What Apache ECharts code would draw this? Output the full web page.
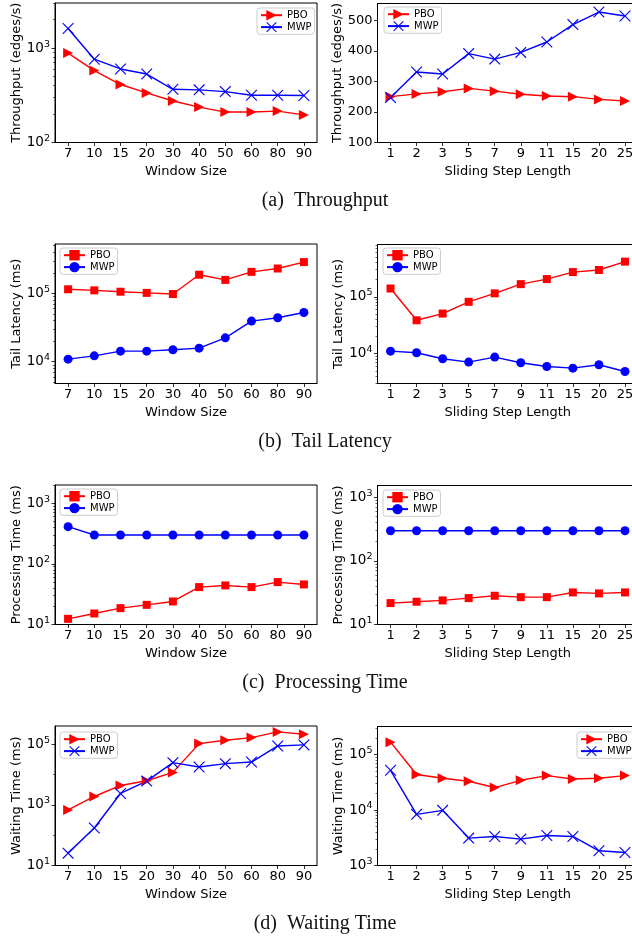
<!DOCTYPE html>
<html>
<head>
<meta charset="utf-8">
<script src="https://cdn.jsdelivr.net/npm/echarts@6/dist/echarts.min.js"></script>
<style>
body{margin:0;background:#fff;width:632px;height:940px;overflow:hidden;position:relative}
.row{position:absolute;left:0;width:660px;height:241px}
</style>
</head>
<body>
<div id="r0" class="row" style="top:0px"></div>
<div id="r1" class="row" style="top:241px"></div>
<div id="r2" class="row" style="top:482px"></div>
<div id="r3" class="row" style="top:723px"></div>
<script>
var windowSizes = ['7', '10', '15', '20', '30', '40', '50', '60', '80', '90'];
var stepLengths = ['1', '2', '3', '5', '7', '9', '11', '15', '20', '25'];

// (a) throughput
var thrWinPBO = [884, 577, 411, 335, 275, 237, 210, 210, 215, 196];
var thrWinMWP = [1610, 762, 601, 531, 366, 361, 346, 316, 316, 314];
var thrStepPBO = [250, 259, 266, 277, 268, 258, 252, 250, 241, 236];
var thrStepMWP = [247, 331, 324, 391, 373, 395, 429, 486, 527, 514];
// (b) tail latency
var latWinPBO = [115000, 111000, 106000, 102000, 98000, 188000, 158000, 207000, 232000, 288000];
var latWinMWP = [10900, 12200, 14300, 14300, 15000, 15800, 22400, 39400, 44000, 52700];
var latStepPBO = [140000, 38700, 50800, 81600, 115000, 167000, 205000, 272000, 296000, 415000];
var latStepMWP = [11100, 10400, 8170, 7130, 8740, 6940, 5970, 5580, 6400, 4880];
// (c) processing time
var procWinPBO = [12.4, 15.2, 18.6, 21.1, 24, 41.4, 44.1, 41.4, 50.1, 45.8];
var procWinMWP = [411, 299, 299, 299, 299, 299, 299, 299, 299, 299];
var procStepPBO = [21.7, 22.8, 23.9, 26, 28.3, 26.9, 26.9, 31.9, 30.8, 31.9];
var procStepMWP = [298, 298, 298, 298, 298, 298, 298, 298, 298, 298];
// (d) waiting time
var waitWinPBO = [683, 1890, 4370, 6250, 11800, 105000, 136000, 166000, 256000, 214000];
var waitWinMWP = [25.6, 173, 2380, 6090, 24700, 17700, 22900, 25900, 88000, 95000];
var waitStepPBO = [167000, 43600, 37300, 33000, 25400, 34300, 41700, 36300, 37300, 41700];
var waitStepMWP = [52000, 8350, 9860, 3120, 3340, 2990, 3480, 3340, 1840, 1720];

// axis ranges and tick values
var thrWinRange = [100, 3000], thrWinTicks = [100, 1000];
var thrStepRange = [100, 555], thrStepTicks = [100, 200, 300, 400, 500];
var latWinRange = [4800, 530000], latWinTicks = [10000, 100000];
var latStepRange = [3000, 830000], latStepTicks = [10000, 100000];
var procWinRange = [10, 2000], procWinTicks = [10, 100, 1000];
var procStepRange = [10, 1530], procStepTicks = [10, 100, 1000];
var waitWinRange = [10, 400000], waitWinTicks = [10, 1000, 100000], waitWinMinor = [100, 10000];
var waitStepRange = [1000, 320000], waitStepTicks = [1000, 10000, 100000];

var FONT = 'DejaVu Sans';
var RED = '#ff0000', BLUE = '#0000ff';
var X_PATH = 'path://M0,7L7,0L50,43L93,0L100,7L57,50L100,93L93,100L50,57L7,100L0,93L43,50Z';
var SYM = {
    tri: {symbol: 'triangle', size: [10, 10], rotate: -90},
    x: {symbol: X_PATH, size: 11.5, rotate: 0},
    sq: {symbol: 'rect', size: 8, rotate: 0},
    dot: {symbol: 'circle', size: 9, rotate: 0}
};

function minors(lo, hi) {
    var out = [];
    for (var e = Math.floor(Math.log10(lo)); e <= Math.ceil(Math.log10(hi)); e++) {
        for (var k = 2; k <= 9; k++) {
            var v = k * Math.pow(10, e);
            if (v >= lo && v <= hi) out.push(v);
        }
    }
    return out;
}

function logLabel(v) {
    return '{b|10}{s|' + Math.round(Math.log10(v)) + '}';
}

var rows = [
    {caption: '(a)\u2002Throughput', sym: ['tri', 'x'], panels: [
        {cats: windowSizes, pbo: thrWinPBO, mwp: thrWinMWP, type: 'log', range: thrWinRange, ticks: thrWinTicks,
            minor: minors(100, 3000), name: 'Throughput (edges/s)', xname: 'Window Size', legend: [257, 8]},
        {cats: stepLengths, pbo: thrStepPBO, mwp: thrStepMWP, type: 'value', range: thrStepRange, ticks: thrStepTicks,
            minor: null, name: 'Throughput (edges/s)', xname: 'Sliding Step Length', legend: [384, 7]}
    ]},
    {caption: '(b)\u2002Tail Latency', sym: ['sq', 'dot'], panels: [
        {cats: windowSizes, pbo: latWinPBO, mwp: latWinMWP, type: 'log', range: latWinRange, ticks: latWinTicks,
            minor: minors(4800, 530000), name: 'Tail Latency (ms)', xname: 'Window Size', legend: [60, 7]},
        {cats: stepLengths, pbo: latStepPBO, mwp: latStepMWP, type: 'log', range: latStepRange, ticks: latStepTicks,
            minor: minors(3000, 830000), name: 'Tail Latency (ms)', xname: 'Sliding Step Length', legend: [383, 7]}
    ]},
    {caption: '(c)\u2002Processing Time', sym: ['sq', 'dot'], panels: [
        {cats: windowSizes, pbo: procWinPBO, mwp: procWinMWP, type: 'log', range: procWinRange, ticks: procWinTicks,
            minor: minors(10, 2000), name: 'Processing Time (ms)', xname: 'Window Size', legend: [60, 7]},
        {cats: stepLengths, pbo: procStepPBO, mwp: procStepMWP, type: 'log', range: procStepRange, ticks: procStepTicks,
            minor: minors(10, 1530), name: 'Processing Time (ms)', xname: 'Sliding Step Length', legend: [383, 8]}
    ]},
    {caption: '(d)\u2002Waiting Time', sym: ['tri', 'x'], panels: [
        {cats: windowSizes, pbo: waitWinPBO, mwp: waitWinMWP, type: 'log', range: waitWinRange, ticks: waitWinTicks,
            minor: waitWinMinor, name: 'Waiting Time (ms)', xname: 'Window Size', legend: [60, 9]},
        {cats: stepLengths, pbo: waitStepPBO, mwp: waitStepMWP, type: 'log', range: waitStepRange, ticks: waitStepTicks,
            minor: minors(1000, 320000), name: 'Waiting Time (ms)', xname: 'Sliding Step Length', legend: [577, 9]}
    ]}
];

var grids = [
    {left: 55, top: 3, width: 262, height: 139.5},
    {left: 377.5, top: 3.5, width: 260.5, height: 139}
];

function series(name, data, idx, s, color) {
    return {
        name: name, type: 'line', xAxisIndex: idx, yAxisIndex: idx, data: data,
        symbol: s.symbol, symbolSize: s.size, symbolRotate: s.rotate, showAllSymbol: true,
        color: color,
        lineStyle: {color: color, width: 1.4},
        itemStyle: {color: color, borderWidth: 0},
        emphasis: {disabled: true},
        animation: false
    };
}

rows.forEach(function (row, r) {
    var chart = echarts.init(document.getElementById('r' + r));
    var option = {
        backgroundColor: '#fff',
        animation: false,
        grid: [], xAxis: [], yAxis: [], legend: [], series: [],
        graphic: [{
            type: 'text', x: 325, y: 201,
            style: {text: row.caption, fontSize: 20, fontFamily: 'Liberation Serif', fill: '#111',
                align: 'center', verticalAlign: 'middle'}
        }]
    };
    row.panels.forEach(function (p, i) {
        option.grid.push(Object.assign({show: true, borderColor: '#000', borderWidth: 1, containLabel: false}, grids[i]));
        option.xAxis.push({
            type: 'category', gridIndex: i, data: p.cats, boundaryGap: true,
            axisLine: {show: true, lineStyle: {color: '#000', width: 1}},
            axisTick: {show: true, alignWithLabel: true, length: 3.5, lineStyle: {color: '#000', width: 0.8}},
            axisLabel: {interval: 0, margin: 5, fontSize: 13, fontFamily: FONT, color: '#000'},
            splitLine: {show: false},
            name: p.xname, nameLocation: 'middle', nameGap: 21,
            nameTextStyle: {fontSize: 13, fontFamily: FONT, color: '#000'}
        });
        var isLog = p.type === 'log';
        option.yAxis.push({
            type: p.type, gridIndex: i, min: p.range[0], max: p.range[1], logBase: 10,
            axisLine: {show: true, lineStyle: {color: '#000', width: 1}},
            axisTick: {show: true, length: 3.5, customValues: p.ticks, lineStyle: {color: '#000', width: 0.8}},
            axisLabel: {
                customValues: p.ticks, margin: 5, fontSize: 13, fontFamily: FONT, color: '#000',
                formatter: isLog ? logLabel : '{value}',
                rich: {
                    b: {fontSize: 13.5, lineHeight: 18, fontFamily: FONT, color: '#000'},
                    s: {fontSize: 9.5, lineHeight: 9, verticalAlign: 'top', fontFamily: FONT, color: '#000'}
                }
            },
            splitLine: {show: false},
            name: p.name, nameLocation: 'middle', nameGap: 31,
            nameTextStyle: {fontSize: 13, fontFamily: FONT, color: '#000'}
        });
        option.legend.push({
            orient: 'vertical', left: p.legend[0], top: p.legend[1],
            data: ['PBO', 'MWP'],
            itemWidth: 21, itemHeight: 13, itemGap: 1.5,
            padding: [2, 3, 2, 3],
            borderColor: '#cccccc', borderWidth: 1, borderRadius: 3,
            backgroundColor: 'rgba(255,255,255,0.8)',
            textStyle: {fontSize: 10, fontFamily: FONT, color: '#000'},
            selectedMode: false
        });
        option.series.push(series('PBO', p.pbo, i, SYM[row.sym[0]], RED));
        option.series.push(series('MWP', p.mwp, i, SYM[row.sym[1]], BLUE));
    });
    // minor ticks on log axes
    row.panels.forEach(function (p, i) {
        if (!p.minor) return;
        option.yAxis.push({
            type: 'log', gridIndex: i, min: p.range[0], max: p.range[1], logBase: 10, position: 'left',
            axisLine: {show: false},
            axisTick: {show: true, length: 2, customValues: p.minor, lineStyle: {color: '#000', width: 0.6}},
            axisLabel: {show: false},
            splitLine: {show: false}
        });
    });
    chart.setOption(option);
});
</script>
</body>
</html>
